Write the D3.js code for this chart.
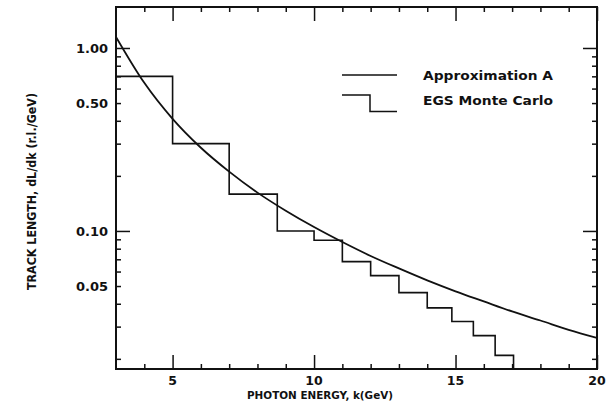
<!DOCTYPE html>
<html>
<head>
<meta charset="utf-8">
<script src="https://cdn.jsdelivr.net/npm/d3@7"></script>
<style>
  body { margin: 0; background: #fff; }
  svg { display: block; }
  text { font-family: "DejaVu Sans", sans-serif; font-weight: bold; fill: #111; }
  .ax path { display: none; }
  .ax line { stroke: #111; stroke-width: 1.5; }
</style>
</head>
<body>
<div id="chart"></div>
<script>
// Approximation A, read at integer photon energies
var curveK = [3, 4, 5, 6, 7, 8, 9, 10, 11, 12, 13, 14, 15, 16, 17, 18, 19, 20];
var curveVal = [1.15, 0.645, 0.41, 0.285, 0.211, 0.162, 0.129, 0.105, 0.087, 0.073,
                0.0624, 0.0537, 0.0468, 0.0412, 0.0363, 0.0324, 0.0288, 0.026];

// EGS Monte Carlo histogram: bin edges and bin contents
var binEdges = [3, 5, 7, 8.7, 10, 11, 12, 13, 14, 14.87, 15.63, 16.4, 17.05];
var binVal = [0.70, 0.30, 0.159, 0.10, 0.089, 0.068, 0.057, 0.046, 0.038, 0.032, 0.0268, 0.0209];

var xTickLabels = [5, 10, 15, 20];
var xMinorTicks = [4, 6, 7, 8, 9, 11, 12, 13, 14, 16, 17, 18, 19];
var yTickLabels = [1.00, 0.50, 0.10, 0.05];
var yMajorTicks = [1.0, 0.1];
var yMinorTicks = [0.02, 0.03, 0.04, 0.05, 0.06, 0.07, 0.08, 0.09,
                   0.2, 0.3, 0.4, 0.5, 0.6, 0.7, 0.8, 0.9];

var legendLabels = ["Approximation A", "EGS Monte Carlo"];

var W = 609, H = 410;
var margin = {top: 7, right: 12, bottom: 41, left: 116};
var width = W - margin.left - margin.right,
    height = H - margin.top - margin.bottom;
var ink = "#111";

var svg = d3.select("#chart").append("svg")
    .attr("width", W)
    .attr("height", H);

var g = svg.append("g")
    .attr("transform", `translate(${margin.left},${margin.top})`);

var x = d3.scaleLinear().domain([3, 20]).range([0, width]);
var y = d3.scaleLog().domain([0.0176, 1.675]).range([height, 0]);

g.append("clipPath").attr("id", "clip")
  .append("rect").attr("width", width).attr("height", height);

// inward ticks on all four sides
var majLen = 14, minLen = 5;
function tickAxis(axisFn, scale, vals, len, tx, ty) {
  g.append("g")
      .attr("class", "ax")
      .attr("transform", `translate(${tx},${ty})`)
      .call(axisFn(scale).tickValues(vals).tickSize(-len).tickFormat(""));
}
tickAxis(d3.axisBottom, x, xMinorTicks, minLen, 0, height);
tickAxis(d3.axisBottom, x, xTickLabels, majLen, 0, height);
tickAxis(d3.axisTop, x, xMinorTicks, minLen, 0, 0);
tickAxis(d3.axisTop, x, xTickLabels, majLen, 0, 0);
tickAxis(d3.axisLeft, y, yMinorTicks, minLen, 0, 0);
tickAxis(d3.axisLeft, y, yMajorTicks, majLen, 0, 0);
tickAxis(d3.axisRight, y, yMinorTicks, minLen, width, 0);
tickAxis(d3.axisRight, y, yMajorTicks, majLen, width, 0);

// tick labels
g.selectAll(".xlab").data(xTickLabels).enter().append("text")
    .attr("class", "xlab")
    .attr("x", function(d) { return x(d); })
    .attr("y", height + 16)
    .attr("text-anchor", "middle")
    .style("font-size", "12.5px")
    .text(function(d) { return d; });

g.selectAll(".ylab").data(yTickLabels).enter().append("text")
    .attr("class", "ylab")
    .attr("x", -8)
    .attr("y", function(d) { return y(d); })
    .attr("dy", "0.36em")
    .attr("text-anchor", "end")
    .style("font-size", "13px")
    .text(d3.format(".2f"));

// axis titles
svg.append("text")
    .attr("x", 247)
    .attr("y", 399)
    .attr("textLength", 146)
    .attr("lengthAdjust", "spacingAndGlyphs")
    .style("font-size", "11px")
    .text("PHOTON ENERGY, k(GeV)");

svg.append("text")
    .attr("transform", "translate(36,290) rotate(-90)")
    .attr("textLength", 197)
    .attr("lengthAdjust", "spacingAndGlyphs")
    .style("font-size", "11.5px")
    .text("TRACK LENGTH, dL/dk (r.l./GeV)");

var plot = g.append("g").attr("clip-path", "url(#clip)");

// approximation curve
var line = d3.line()
    .x(function(d, i) { return x(curveK[i]); })
    .y(function(d) { return y(d); })
    .curve(d3.curveMonotoneX);

plot.append("path")
    .datum(curveVal)
    .attr("fill", "none")
    .attr("stroke", ink)
    .attr("stroke-width", 1.8)
    .attr("d", line);

// histogram
var histPts = binVal.map(function(v, i) { return [binEdges[i], v]; });
histPts.push([binEdges[binEdges.length - 1], y.domain()[0]]);

var step = d3.line()
    .x(function(d) { return x(d[0]); })
    .y(function(d) { return y(d[1]); })
    .curve(d3.curveStepAfter);

plot.append("path")
    .datum(histPts)
    .attr("fill", "none")
    .attr("stroke", ink)
    .attr("stroke-width", 1.6)
    .attr("d", step);

// frame
g.append("rect")
    .attr("width", width).attr("height", height)
    .attr("fill", "none")
    .attr("stroke", ink)
    .attr("stroke-width", 2);

// legend
var lg = svg.append("g");
lg.append("line")
    .attr("x1", 342).attr("x2", 397).attr("y1", 75).attr("y2", 75)
    .attr("stroke", ink).attr("stroke-width", 1.5);
lg.append("path")
    .attr("d", "M342,95H370V111.5H397")
    .attr("fill", "none")
    .attr("stroke", ink).attr("stroke-width", 1.5);
lg.selectAll(".lt").data(legendLabels).enter().append("text")
    .attr("class", "lt")
    .attr("x", 423)
    .attr("y", function(d, i) { return 80 + i * 25; })
    .attr("textLength", 130)
    .attr("lengthAdjust", "spacingAndGlyphs")
    .style("font-size", "11.5px")
    .text(function(d) { return d; });
</script>
</body>
</html>
